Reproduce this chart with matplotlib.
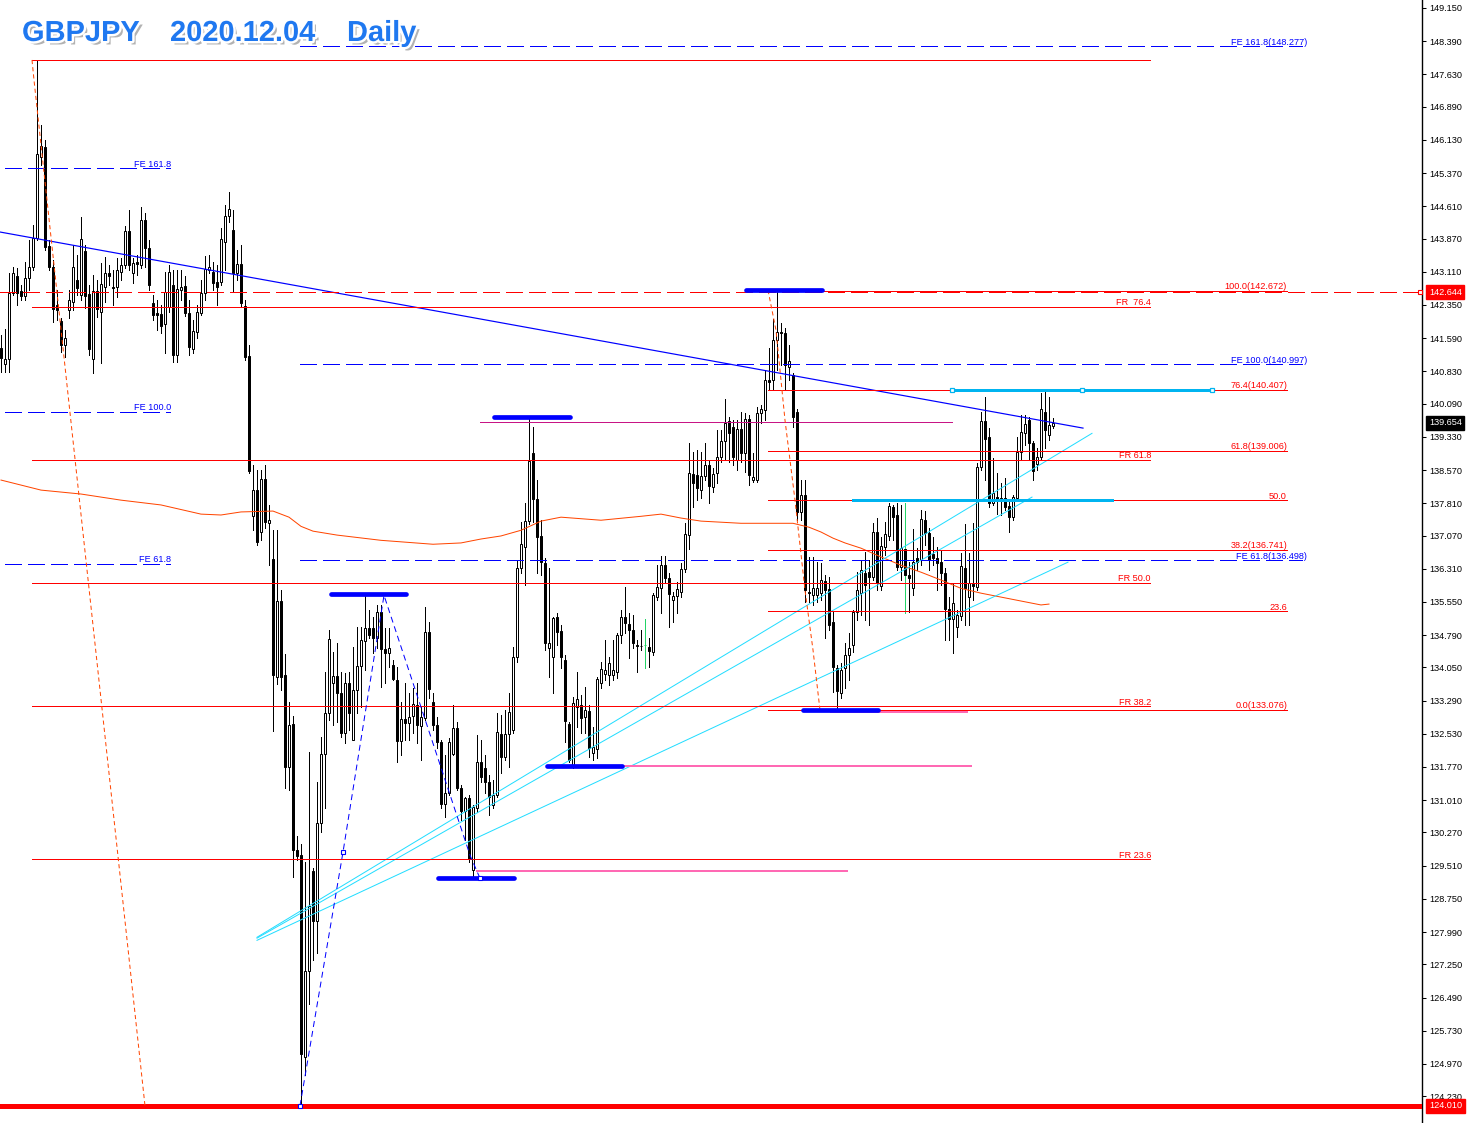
import numpy as np
import matplotlib
matplotlib.use("Agg")
import matplotlib.pyplot as plt
import matplotlib.patheffects as pe
from matplotlib.transforms import blended_transform_factory, offset_copy

plt.rcParams['lines.scale_dashes'] = False
plt.rcParams['font.family'] = ['Liberation Sans', 'DejaVu Sans']

# ---------------- data (daily candles, GBPJPY) ----------------
opens = [141.36, 140.99, 141.11, 142.62, 143.01, 142.67, 142.55, 142.96, 143.22, 143.88,
         145.74, 145.96, 143.70, 143.22, 142.35, 141.98, 141.43, 142.23, 142.41, 142.92,
         142.57, 143.58, 142.60, 141.11, 142.67, 142.19, 142.76, 143.08, 142.76, 142.76,
         143.10, 143.26, 144.04, 143.08, 143.33, 143.26, 144.29, 143.65, 142.39, 142.16,
         142.14, 141.91, 142.30, 142.80, 141.20, 142.69, 142.78, 142.16, 141.34, 141.73,
         142.16, 142.62, 143.15, 143.10, 142.87, 142.87, 143.79, 144.38, 144.06, 143.08,
         143.28, 142.32, 141.18, 137.51, 138.11, 137.15, 138.36, 137.35, 136.53, 133.83,
         135.57, 133.87, 131.77, 132.75, 129.87, 129.75, 125.13, 127.09, 129.38, 128.24,
         130.48, 132.06, 133.00, 133.69, 133.85, 133.46, 132.54, 133.69, 132.38, 133.53,
         134.08, 134.65, 134.95, 134.95, 134.72, 135.32, 134.47, 134.38, 134.10, 133.76,
         132.36, 132.87, 132.77, 132.93, 133.19, 132.71, 132.89, 134.86, 133.25, 132.73,
         132.34, 130.92, 131.17, 132.06, 132.66, 131.29, 130.76, 131.06, 129.41, 130.83,
         131.88, 131.74, 131.42, 130.90, 131.12, 132.52, 132.00, 132.52, 132.61, 134.29,
         136.32, 136.80, 137.40, 138.96, 137.90, 137.06, 136.44, 134.49, 134.29, 135.20,
         134.88, 134.22, 132.75, 131.77, 133.14, 133.19, 132.91, 133.05, 132.09, 132.18,
         133.69, 133.90, 133.87, 133.87, 133.94, 134.79, 135.20, 135.04, 134.90, 134.56,
         134.54, 134.56, 134.51, 134.40, 135.66, 135.87, 136.39, 136.09, 135.59, 135.68,
         135.77, 136.30, 137.08, 138.48, 138.45, 138.11, 138.43, 138.68, 138.18, 138.50,
         138.87, 139.23, 139.69, 139.55, 138.80, 139.51, 138.96, 139.74, 138.34, 138.34,
         139.87, 139.94, 140.63, 140.63, 141.54, 141.73, 141.70, 140.93, 140.74, 139.90,
         137.61, 137.99, 135.77, 135.70, 135.70, 135.75, 136.03, 135.84, 135.09, 134.03,
         133.46, 134.03, 134.33, 134.56, 135.32, 135.75, 136.21, 136.23, 136.12, 137.15,
         135.91, 136.80, 137.06, 137.72, 137.54, 136.35, 136.76, 136.16, 135.87, 136.55,
         136.51, 137.42, 137.12, 136.64, 136.55, 136.46, 136.21, 135.38, 135.16, 134.97,
         135.22, 136.32, 135.66, 135.96, 135.89, 138.64, 139.69, 139.32, 137.81, 137.95,
         137.93, 137.93, 137.74, 137.49, 137.93, 138.98, 139.41, 139.71, 139.19, 138.70,
         138.87, 139.90, 139.37, 139.58]

highs = [141.66, 141.80, 143.08, 143.22, 143.19, 142.80, 143.33, 143.83, 144.18, 147.96,
         146.47, 146.12, 143.83, 143.38, 142.69, 142.05, 141.77, 142.69, 143.72, 143.49,
         144.36, 143.72, 142.80, 143.03, 142.92, 143.31, 143.45, 143.26, 143.15, 143.42,
         143.42, 144.15, 144.52, 143.42, 143.49, 144.59, 144.45, 143.83, 142.57, 142.46,
         142.35, 143.10, 143.26, 143.15, 143.15, 143.15, 143.01, 142.46, 142.00, 142.35,
         142.92, 143.47, 143.49, 143.33, 143.26, 144.11, 144.64, 144.93, 144.52, 143.61,
         143.72, 142.46, 141.43, 138.68, 138.57, 138.57, 138.68, 137.77, 137.19, 137.19,
         135.82, 134.35, 133.25, 132.93, 130.19, 130.00, 129.59, 132.11, 129.45, 131.42,
         132.45, 133.94, 134.90, 134.40, 134.61, 133.94, 133.92, 133.94, 134.51, 134.97,
         134.97, 135.75, 135.36, 135.20, 135.48, 135.48, 134.95, 134.95, 134.22, 134.06,
         133.25, 133.69, 133.46, 133.58, 133.69, 133.14, 135.43, 135.09, 133.46, 132.91,
         132.38, 132.04, 132.43, 133.19, 132.80, 131.35, 131.08, 131.12, 130.90, 132.50,
         132.38, 132.04, 131.58, 131.47, 133.00, 132.96, 133.07, 133.46, 134.51, 136.51,
         137.38, 137.81, 139.75, 139.55, 138.34, 137.42, 136.55, 136.32, 135.20, 135.29,
         135.02, 134.33, 132.80, 133.37, 133.94, 133.41, 133.60, 133.19, 132.68, 133.83,
         134.17, 134.67, 134.29, 134.67, 134.83, 135.36, 135.89, 135.29, 135.25, 134.67,
         134.90, 135.16, 134.72, 135.75, 136.39, 136.60, 136.60, 136.21, 135.77, 136.00,
         136.44, 137.35, 139.19, 138.98, 139.03, 138.98, 139.19, 138.80, 138.61, 139.48,
         139.48, 140.19, 139.78, 139.71, 139.71, 139.90, 139.87, 139.83, 138.96, 140.01,
         140.06, 140.86, 141.36, 142.03, 142.67, 141.93, 141.82, 141.43, 140.79, 139.96,
         138.34, 138.34, 136.58, 136.58, 136.46, 136.44, 136.16, 136.12, 135.32, 134.10,
         134.15, 134.61, 134.83, 135.36, 136.23, 136.51, 136.69, 136.51, 137.35, 137.47,
         137.03, 137.38, 137.81, 137.77, 137.81, 137.77, 137.81, 136.46, 137.22, 136.78,
         137.65, 137.63, 137.24, 137.03, 136.80, 136.74, 136.32, 135.66, 135.98, 135.36,
         136.67, 137.33, 136.67, 137.35, 138.73, 139.90, 140.24, 139.53, 138.84, 138.50,
         138.27, 138.38, 137.88, 137.99, 139.32, 139.83, 139.83, 139.78, 139.23, 139.07,
         140.33, 140.42, 140.24, 139.76]

lows = [140.81, 140.81, 140.81, 142.57, 142.35, 142.46, 142.46, 142.69, 143.15, 143.83,
        145.55, 143.61, 143.15, 141.96, 142.00, 141.27, 141.16, 142.05, 142.23, 142.57,
        142.46, 142.28, 141.20, 140.79, 142.07, 141.02, 142.41, 142.80, 142.35, 142.53,
        142.92, 143.19, 143.15, 142.85, 143.03, 143.19, 143.22, 142.69, 142.00, 141.77,
        141.70, 141.25, 142.19, 141.04, 141.04, 142.46, 142.09, 141.20, 141.25, 141.59,
        142.12, 142.46, 143.08, 142.69, 142.35, 142.80, 143.15, 144.25, 142.64, 142.92,
        142.30, 141.09, 138.50, 137.19, 136.85, 136.96, 137.24, 136.39, 132.59, 133.67,
        133.53, 131.29, 131.24, 129.25, 129.64, 124.01, 124.71, 126.34, 127.35, 127.51,
        130.28, 130.83, 132.84, 132.73, 132.80, 132.45, 132.32, 132.61, 132.38, 133.00,
        133.14, 133.99, 134.72, 134.38, 134.49, 133.60, 133.69, 134.06, 133.76, 131.88,
        132.04, 132.38, 132.38, 132.54, 132.32, 131.93, 132.84, 133.35, 132.61, 132.20,
        130.83, 130.62, 131.12, 132.04, 131.24, 130.55, 130.09, 129.59, 129.22, 130.74,
        131.42, 131.17, 130.67, 130.83, 131.08, 131.63, 131.93, 131.77, 132.54, 134.17,
        136.21, 135.93, 137.33, 137.38, 136.21, 136.16, 134.45, 133.83, 133.46, 134.56,
        134.03, 132.34, 131.88, 131.74, 132.68, 132.54, 132.54, 132.00, 131.93, 131.97,
        133.58, 133.76, 133.64, 133.76, 133.80, 134.61, 134.83, 134.26, 134.49, 133.94,
        134.45, 134.03, 134.06, 134.33, 135.59, 135.29, 136.00, 134.97, 135.09, 135.29,
        135.66, 136.23, 136.76, 137.72, 137.88, 137.93, 138.34, 137.81, 138.06, 138.27,
        138.75, 138.80, 138.75, 138.68, 138.57, 138.75, 138.52, 138.22, 138.29, 138.29,
        139.64, 139.71, 140.40, 140.40, 140.86, 140.97, 140.40, 140.63, 139.55, 137.42,
        137.42, 135.54, 135.54, 135.48, 135.54, 135.59, 134.72, 134.90, 133.48, 133.08,
        133.35, 133.58, 133.76, 134.40, 135.13, 135.25, 135.13, 135.02, 136.05, 135.82,
        135.82, 136.62, 136.96, 136.96, 136.28, 136.05, 135.29, 135.32, 135.70, 136.28,
        136.39, 136.85, 136.28, 136.39, 135.82, 135.93, 134.67, 134.67, 134.38, 134.74,
        135.13, 135.02, 135.02, 135.59, 135.82, 138.57, 138.34, 137.72, 137.77, 137.56,
        137.54, 137.65, 137.15, 137.42, 137.88, 138.80, 139.14, 138.80, 138.34, 138.57,
        138.80, 139.07, 139.25, 139.53]

closes = [141.13, 141.11, 142.62, 143.08, 142.62, 142.55, 142.96, 143.22, 143.88, 145.80,
          145.99, 143.67, 143.22, 142.25, 142.23, 141.43, 141.59, 142.46, 143.22, 142.74,
          143.86, 142.55, 141.34, 142.67, 142.25, 142.83, 143.08, 143.01, 142.74, 143.15,
          143.26, 144.04, 143.26, 143.31, 143.28, 144.29, 143.65, 142.80, 142.12, 142.12,
          141.87, 142.64, 143.10, 141.20, 142.71, 142.76, 142.16, 141.38, 141.75, 142.19,
          142.62, 143.17, 143.22, 142.85, 142.76, 143.86, 144.38, 144.54, 143.08, 143.28,
          142.39, 141.16, 138.54, 138.11, 136.92, 138.36, 137.38, 137.42, 133.87, 135.57,
          133.83, 131.77, 132.73, 129.87, 129.73, 125.19, 127.09, 128.58, 128.24, 130.48,
          132.06, 133.00, 134.70, 133.85, 133.46, 132.54, 133.69, 133.00, 133.53, 134.08,
          134.67, 134.95, 134.79, 134.72, 135.32, 134.47, 134.38, 134.49, 133.78, 132.36,
          132.87, 132.77, 132.91, 133.21, 132.73, 132.91, 134.86, 133.55, 132.73, 132.34,
          130.92, 131.17, 132.34, 132.66, 131.29, 130.76, 131.06, 129.66, 130.85, 131.88,
          131.54, 131.42, 131.08, 131.12, 132.57, 132.00, 132.52, 133.03, 134.29, 136.32,
          136.87, 137.40, 138.77, 137.90, 137.03, 136.46, 134.61, 134.61, 135.18, 134.86,
          134.29, 132.82, 131.93, 133.23, 133.32, 132.89, 133.07, 132.20, 132.22, 133.78,
          134.01, 133.99, 134.15, 133.99, 134.79, 135.20, 135.06, 134.90, 134.61, 134.54,
          134.55, 134.56, 134.42, 135.70, 135.89, 136.39, 136.09, 135.73, 135.68, 135.84,
          136.30, 137.10, 138.50, 138.27, 138.16, 138.43, 138.68, 138.20, 138.48, 138.87,
          139.23, 139.64, 139.41, 138.87, 139.51, 138.96, 139.74, 138.45, 138.41, 139.87,
          139.96, 140.63, 140.58, 141.54, 141.73, 141.70, 140.97, 141.06, 139.78, 137.61,
          137.99, 135.82, 135.75, 135.87, 135.87, 136.05, 135.82, 135.02, 134.06, 133.51,
          133.99, 134.33, 134.49, 135.32, 135.82, 136.28, 135.93, 136.12, 137.15, 135.98,
          136.83, 137.10, 137.74, 137.49, 136.35, 136.78, 136.16, 136.09, 136.46, 136.46,
          137.45, 137.12, 136.51, 136.55, 136.44, 136.21, 135.38, 135.16, 135.52, 135.25,
          136.37, 135.87, 135.98, 135.91, 138.64, 139.69, 139.28, 137.81, 138.04, 137.90,
          137.86, 137.72, 137.49, 137.95, 138.98, 139.44, 139.62, 139.19, 138.54, 138.87,
          139.96, 139.48, 139.60, 139.654]

green_idx = [161, 226]

# moving average (indicator) sampled at candle indices
ma_idx = [0, 10, 20, 30, 40, 50, 55, 60, 68, 72, 75, 78, 84, 95, 108, 115, 120, 125, 130, 135,
          140, 150, 160, 165, 170, 175, 185, 198, 202, 205, 208, 211, 215, 220, 225, 230, 235,
          240, 245, 250, 255, 260, 262]
ma_val = [138.34, 138.11, 138.02, 137.88, 137.77, 137.56, 137.54, 137.61, 137.63, 137.49,
          137.28, 137.17, 137.08, 136.96, 136.87, 136.90, 136.99, 137.06, 137.19, 137.40,
          137.49, 137.42, 137.51, 137.56, 137.47, 137.40, 137.35, 137.35, 137.26, 137.15,
          137.01, 136.90, 136.78, 136.58, 136.39, 136.23, 136.05, 135.86, 135.75, 135.66,
          135.57, 135.48, 135.50]

# right price scale
axis_ticks = [149.150, 148.390, 147.630, 146.890, 146.130, 145.370, 144.610, 143.870, 143.110,
              142.350, 141.590, 140.830, 140.090, 139.330, 138.570, 137.810, 137.070, 136.310,
              135.550, 134.790, 134.050, 133.290, 132.530, 131.770, 131.010, 130.270, 129.510,
              128.750, 127.990, 127.250, 126.490, 125.730, 124.970, 124.230]

# Fibonacci retracement (big swing)
fr_levels = [142.31, 138.81, 135.985, 133.16, 129.66]
fr_labels = ['FR  76.4', 'FR 61.8', 'FR 50.0', 'FR 38.2', 'FR 23.6']
fr_top = 147.96
low_price = 124.010
# Fibonacci expansion levels
fe_levels = [148.277, 140.997, 136.498]
fe_labels = ['FE 161.8(148.277)', 'FE 100.0(140.997)', 'FE 61.8(136.498)']
fe_left_levels = [145.48, 139.90, 136.42]
fe_left_labels = ['FE 161.8', 'FE 100.0', 'FE 61.8']
# second Fibonacci retracement
fib2_levels = [142.672, 140.407, 139.006, 137.874, 136.741, 135.341, 133.076]
fib2_labels = ['100.0(142.672)', '76.4(140.407)', '61.8(139.006)', '50.0', '38.2(136.741)', '23.6',
               '0.0(133.076)']
hline_price = 142.644
last_price = 139.654
# swing markers
swing_prices = [142.69, 139.78, 135.73, 131.79, 133.07, 129.22]

# ---------------- figure ----------------
W, H = 1472, 1123
fig = plt.figure(figsize=(W / 100, H / 100), dpi=100)
fig.patch.set_facecolor('white')
ax = fig.add_axes([0, 0, 1422 / W, 1])
ax.set_xlim(-0.25, 355.25)
ax.set_ylim(123.617, 149.333)
ax.set_facecolor('white')
for s in ['left', 'top', 'bottom']:
    ax.spines[s].set_visible(False)
ax.spines['right'].set_linewidth(1.0)
ax.set_xticks([])
ax.yaxis.tick_right()
ax.set_yticks(axis_ticks)
ax.set_yticklabels([f'{t:.3f}' for t in axis_ticks])
ax.tick_params(axis='y', direction='out', length=3, width=0.75, pad=2.5, labelsize=6.6,
               colors='black')

PX = 0.72
up1 = offset_copy(ax.transData, fig=fig, x=0, y=1.5, units='dots')


def hl(y, x0, x1, color, lw=PX, ls='-', z=5):
    ax.plot([x0, x1], [y, y], color=color, lw=lw, ls=ls, zorder=z, antialiased=False,
            solid_capstyle='butt')


# ---------------- candles ----------------
n = min(len(opens), len(highs), len(lows), len(closes))
xi = np.arange(n)
o = np.array(opens[:n]); c = np.array(closes[:n])
hh = np.array(highs[:n]); ll = np.array(lows[:n])
wick_col = ['#22D466' if i in green_idx else 'black' for i in range(n)]
ax.vlines(xi, ll, hh, colors=wick_col, linewidth=PX, zorder=3, antialiased=False)
bull = c >= o
bot = np.minimum(o, c)
hgt = np.maximum(np.abs(c - o), 0.004)
ax.bar(xi[bull], hgt[bull], bottom=bot[bull], width=0.5, facecolor='white',
       edgecolor=[wick_col[i] for i in xi[bull]], linewidth=PX, zorder=4)
ax.bar(xi[~bull], hgt[~bull], bottom=bot[~bull], width=0.5, facecolor='black',
       edgecolor='black', linewidth=PX, zorder=4)

# ---------------- moving average ----------------
ax.plot(ma_idx, ma_val, color='#FF4500', lw=PX, zorder=5)

# ---------------- trend lines ----------------
ax.plot([-0.25, 270.5], [144.02, 139.53], color='#0000FF', lw=PX * 1.2, zorder=5)
cyan = '#22DDFF'
ax.plot([64.0, 272.75], [127.87, 139.41], color=cyan, lw=PX, zorder=5)
ax.plot([64.0, 257.75], [127.85, 137.95], color=cyan, lw=PX, zorder=5)
ax.plot([64.0, 266.75], [127.80, 136.46], color=cyan, lw=PX, zorder=5)

# ---------------- Fibonacci retracement 1 ----------------
red = '#FF0000'
hl(fr_top, 7.75, 287.25, red)
for lv, lb in zip(fr_levels, fr_labels):
    hl(lv, 7.75, 287.25, red)
    ax.text(287.5, lv, lb, transform=up1, ha='right', va='baseline', fontsize=6.6,
            color=red, zorder=6)
hl(low_price, -0.25, 355.25, red, lw=2.2)

# red dashed price line
dash = (0, (12.2, 4.6))
hl(hline_price, -0.25, 354.5, red, ls=dash)
ax.plot([354.75], [hline_price], marker='s', ms=3.5, mfc='white', mec=red, mew=0.8,
        zorder=6, clip_on=False)

# ---------------- Fibonacci expansions ----------------
blue = '#0000FF'
for lv, lb in zip(fe_levels, fe_labels):
    hl(lv, 74.75, 325.25, blue, ls=dash)
    ax.text(326.5, lv, lb, transform=up1, ha='right', va='baseline', fontsize=6.6,
            color=blue, zorder=6)
for lv, lb in zip(fe_left_levels, fe_left_labels):
    hl(lv, 1.0, 42.25, blue, ls=dash)
    ax.text(42.5, lv, lb, transform=up1, ha='right', va='baseline', fontsize=6.6,
            color=blue, zorder=6)

# ---------------- Fibonacci retracement 2 ----------------
for lv, lb in zip(fib2_levels, fib2_labels):
    hl(lv, 191.75, 321.5, red)
    ax.text(321.5, lv, lb, transform=up1, ha='right', va='baseline', fontsize=6.6,
            color=red, zorder=6)

# cyan horizontal segments
hl(fib2_levels[1], 237.75, 302.75, '#00B4F0', lw=2.0, z=6)
ax.plot([237.75, 270.25, 302.75], [fib2_levels[1]] * 3, ls='none', marker='s', ms=3.5,
        mfc='white', mec='#00B4F0', mew=0.9, zorder=7)
hl(fib2_levels[3], 212.75, 278.0, '#00B4F0', lw=2.0, z=6)

# ---------------- magenta / pink lines ----------------
hl(139.67, 119.75, 237.75, '#C71585')
hl(131.79, 155.25, 242.75, '#FF69B4', lw=1.4)
hl(133.03, 207.25, 241.75, '#FF69B4', lw=1.4)
hl(129.38, 118.75, 211.75, '#FF69B4', lw=1.4)

# ---------------- swing markers (thick blue bars) ----------------
swing_x = [(186.25, 205.25), (123.25, 142.25), (82.5, 101.25), (136.5, 155.25),
           (200.5, 219.25), (109.25, 128.25)]
for p, (a, b) in zip(swing_prices, swing_x):
    ax.plot([a, b], [p, p], color=blue, lw=3.4, solid_capstyle='round', zorder=7)

# ---------------- zigzag dashed lines ----------------
ax.plot([7.75, 8.25, 36.0], [147.96, 147.50, 124.01], color='#FF4500', lw=PX,
        ls=(0, (3.0, 2.2)), zorder=5)
ax.plot([191.75, 193.75, 196.0, 198.5, 201.0, 203.0, 204.75],
        [142.69, 141.77, 139.71, 137.88, 135.82, 134.45, 133.07],
        color='#FF4500', lw=PX, ls=(0, (3.0, 2.2)), zorder=5)
ax.plot([74.75, 85.5, 95.75, 117.25, 119.75], [124.01, 129.82, 135.70, 129.75, 129.22],
        color=blue, lw=PX, ls=(0, (4.3, 2.9)), zorder=6)
ax.plot([74.75, 85.5, 119.75], [124.01, 129.82, 129.22], ls='none', marker='s', ms=3,
        mfc='white', mec=blue, mew=0.8, zorder=7)

# ---------------- price boxes on the scale ----------------
bt = blended_transform_factory(fig.transFigure, ax.transData)
for val, fc in [(hline_price, '#FF0000'), (last_price, 'black'), (low_price, '#FF0000')]:
    ax.text(1429 / W, val, f'{val:.3f}', transform=bt, ha='left', va='center', fontsize=6.6,
            color='white', clip_on=False, zorder=10,
            bbox=dict(boxstyle='square,pad=0.28', fc=fc, ec=fc))

# ---------------- title ----------------
fx = [pe.SimplePatchShadow(offset=(2.5, -2.5), shadow_rgbFace='#808080', alpha=0.6),
      pe.Stroke(linewidth=3.5, foreground='white'), pe.Normal()]
for txt, xp in [('GBPJPY', 22), ('2020.12.04', 170), ('Daily', 347)]:
    fig.text(xp / W, 1 - 41 / H, txt, fontsize=20.9, fontweight='bold', color='#1F78F0',
             ha='left', va='baseline', path_effects=fx, family='Liberation Sans', zorder=20)

fig.savefig('out.png', dpi=100, facecolor='white')
